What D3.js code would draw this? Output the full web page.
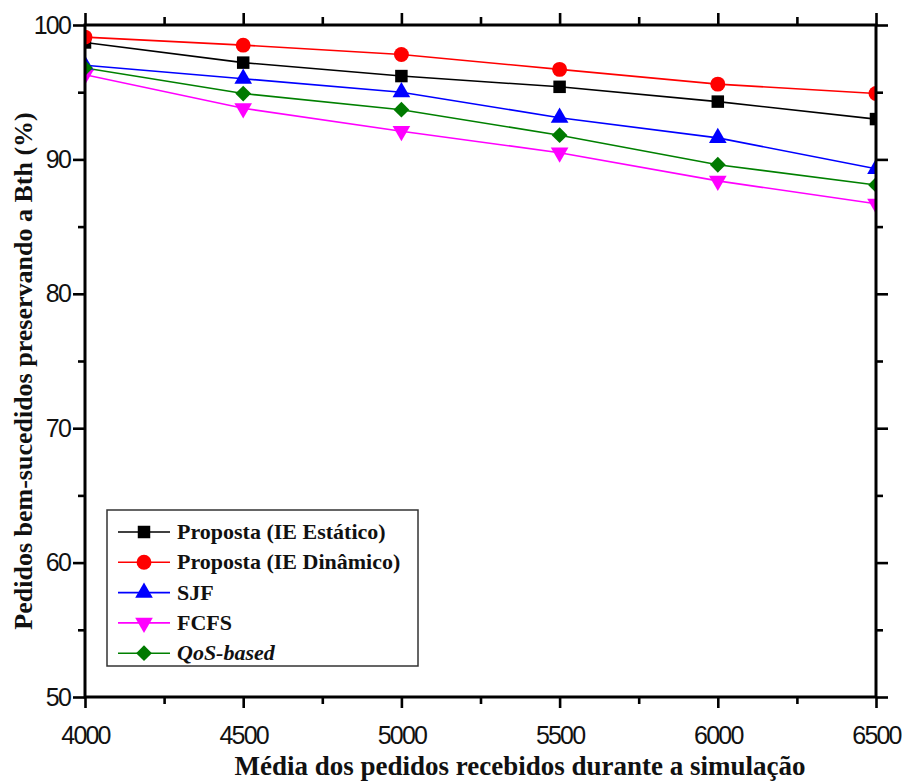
<!DOCTYPE html>
<html>
<head>
<meta charset="utf-8">
<script src="https://cdn.jsdelivr.net/npm/d3@7"></script>
<style>
  html, body { margin: 0; padding: 0; background: #fff; }
  svg { display: block; }
</style>
</head>
<body>
<svg id="chart" width="902" height="782"></svg>
<script>
// Average number of requests received during the simulation
const categories = [4000, 4500, 5000, 5500, 6000, 6500];

// Successful requests preserving Bth (%)
const ieEstatico = [98.7, 97.2, 96.2, 95.4, 94.3, 93.0];
const ieDinamico = [99.1, 98.5, 97.8, 96.7, 95.6, 94.9];
const sjf        = [97.0, 96.0, 95.0, 93.1, 91.6, 89.3];
const fcfs       = [96.3, 93.8, 92.1, 90.5, 88.4, 86.7];
const qosBased   = [96.8, 94.9, 93.7, 91.8, 89.6, 88.1];

const seriesNames = ["Proposta (IE Estático)", "Proposta (IE Dinâmico)", "SJF", "FCFS", "QoS-based"];
const xTicks = [4000, 4500, 5000, 5500, 6000, 6500];
const yTicks = [50, 60, 70, 80, 90, 100];

const series = [
  { name: seriesNames[0], values: ieEstatico, color: "#000000", fill: "#000000", shape: "square" },
  { name: seriesNames[1], values: ieDinamico, color: "#ff0000", fill: "#ff0000", shape: "circle" },
  { name: seriesNames[2], values: sjf,        color: "#0000ff", fill: "#0000ff", shape: "triangleUp" },
  { name: seriesNames[3], values: fcfs,       color: "#ff00ff", fill: "#ff00ff", shape: "triangleDown" },
  { name: seriesNames[4], values: qosBased,   color: "#008000", fill: "#007a00", shape: "diamond", italic: true }
];

const svg = d3.select("#chart");
const plotLeft = 85, plotRight = 876, plotTop = 25, plotBottom = 697;

const x = d3.scaleLinear().domain([4000, 6500]).range([plotLeft, plotRight]);
const y = d3.scaleLinear().domain([50, 100]).range([plotBottom, plotTop]);

const tickFont = "'Liberation Sans', Arial, sans-serif";
const serif = "'Liberation Serif', 'Times New Roman', serif";

// marker path generator
function markerPath(shape) {
  switch (shape) {
    case "square": return d3.symbol(d3.symbolSquare, 156)();
    case "circle": return d3.symbol(d3.symbolCircle, 175)();
    case "triangleUp": return d3.symbol(d3.symbolTriangle, 135)();
    case "triangleDown": return d3.symbol(d3.symbolTriangle, 135)();
    case "diamond": return d3.symbol(d3.symbolSquare, 125)();
  }
}
function markerRotate(shape) {
  if (shape === "triangleDown") return 180;
  if (shape === "diamond") return 45;
  return 0;
}

// clip region for the data
svg.append("defs").append("clipPath").attr("id", "plotClip")
  .append("rect").attr("x", plotLeft).attr("y", plotTop)
  .attr("width", plotRight - plotLeft).attr("height", plotBottom - plotTop);

const plot = svg.append("g").attr("clip-path", "url(#plotClip)");

const line = d3.line().x((d, i) => x(categories[i])).y(d => y(d));

series.forEach(s => {
  plot.append("path")
    .attr("d", line(s.values))
    .attr("fill", "none")
    .attr("stroke", s.color)
    .attr("stroke-width", 1.6);
});
series.forEach(s => {
  plot.selectAll(null).data(s.values).enter().append("path")
    .attr("d", markerPath(s.shape))
    .attr("transform", (d, i) => `translate(${x(categories[i])},${y(d)}) rotate(${markerRotate(s.shape)})`)
    .attr("fill", s.fill);
});

// axes
const minorX = d3.range(4250, 6500, 500);
const minorY = d3.range(55, 100, 10);

svg.append("g").attr("transform", `translate(0,${plotBottom})`)
  .call(d3.axisBottom(x).tickValues(xTicks).tickFormat(d3.format("d")).tickSize(11).tickPadding(18));
svg.append("g").attr("transform", `translate(${plotLeft},0)`)
  .call(d3.axisLeft(y).tickValues(yTicks).tickFormat(d3.format("d")).tickSize(12).tickPadding(3));
svg.append("g").attr("transform", `translate(0,${plotTop})`)
  .call(d3.axisTop(x).tickValues(xTicks).tickFormat("").tickSize(12));
svg.append("g").attr("transform", `translate(${plotRight},0)`)
  .call(d3.axisRight(y).tickValues(yTicks).tickFormat("").tickSize(12));

svg.append("g").attr("transform", `translate(0,${plotBottom})`)
  .call(d3.axisBottom(x).tickValues(minorX).tickFormat("").tickSize(7));
svg.append("g").attr("transform", `translate(0,${plotTop})`)
  .call(d3.axisTop(x).tickValues(minorX).tickFormat("").tickSize(8));
svg.append("g").attr("transform", `translate(${plotLeft},0)`)
  .call(d3.axisLeft(y).tickValues(minorY).tickFormat("").tickSize(7));
svg.append("g").attr("transform", `translate(${plotRight},0)`)
  .call(d3.axisRight(y).tickValues(minorY).tickFormat("").tickSize(7));

svg.selectAll(".domain").remove();
svg.selectAll(".tick line").attr("stroke", "#000").attr("stroke-width", 2.6);

// frame
svg.append("rect")
  .attr("x", plotLeft).attr("y", plotTop)
  .attr("width", plotRight - plotLeft).attr("height", plotBottom - plotTop)
  .attr("fill", "none").attr("stroke", "#000").attr("stroke-width", 3);

svg.selectAll(".tick text")
  .attr("font-family", tickFont)
  .attr("font-size", 25)
  .attr("letter-spacing", -1.8)
  .attr("fill", "#111");

// axis titles
svg.append("text")
  .attr("x", 520).attr("y", 775)
  .attr("text-anchor", "middle")
  .attr("font-family", serif).attr("font-weight", "bold").attr("font-size", 27)
  .attr("fill", "#111")
  .text("Média dos pedidos recebidos durante a simulação");

svg.append("text")
  .attr("transform", "translate(32,371) rotate(-90)")
  .attr("text-anchor", "middle")
  .attr("font-family", serif).attr("font-weight", "bold").attr("font-size", 26)
  .attr("fill", "#111")
  .text("Pedidos bem-sucedidos preservando a Bth (%)");

// legend
const legend = svg.append("g");
legend.append("rect")
  .attr("x", 107).attr("y", 510).attr("width", 311).attr("height", 156)
  .attr("fill", "#fff").attr("stroke", "#333").attr("stroke-width", 1.5);

series.forEach((s, i) => {
  const cy = 532 + i * 30.3;
  legend.append("line")
    .attr("x1", 118).attr("x2", 170).attr("y1", cy).attr("y2", cy)
    .attr("stroke", s.color).attr("stroke-width", 1.6);
  legend.append("path")
    .attr("d", markerPath(s.shape))
    .attr("transform", `translate(144,${cy}) rotate(${markerRotate(s.shape)})`)
    .attr("fill", s.fill);
  legend.append("text")
    .attr("x", 177).attr("y", cy + 7)
    .attr("font-family", serif).attr("font-weight", "bold").attr("font-size", 22)
    .attr("font-style", s.italic ? "italic" : "normal")
    .attr("fill", "#111")
    .text(s.name);
});
</script>
</body>
</html>
